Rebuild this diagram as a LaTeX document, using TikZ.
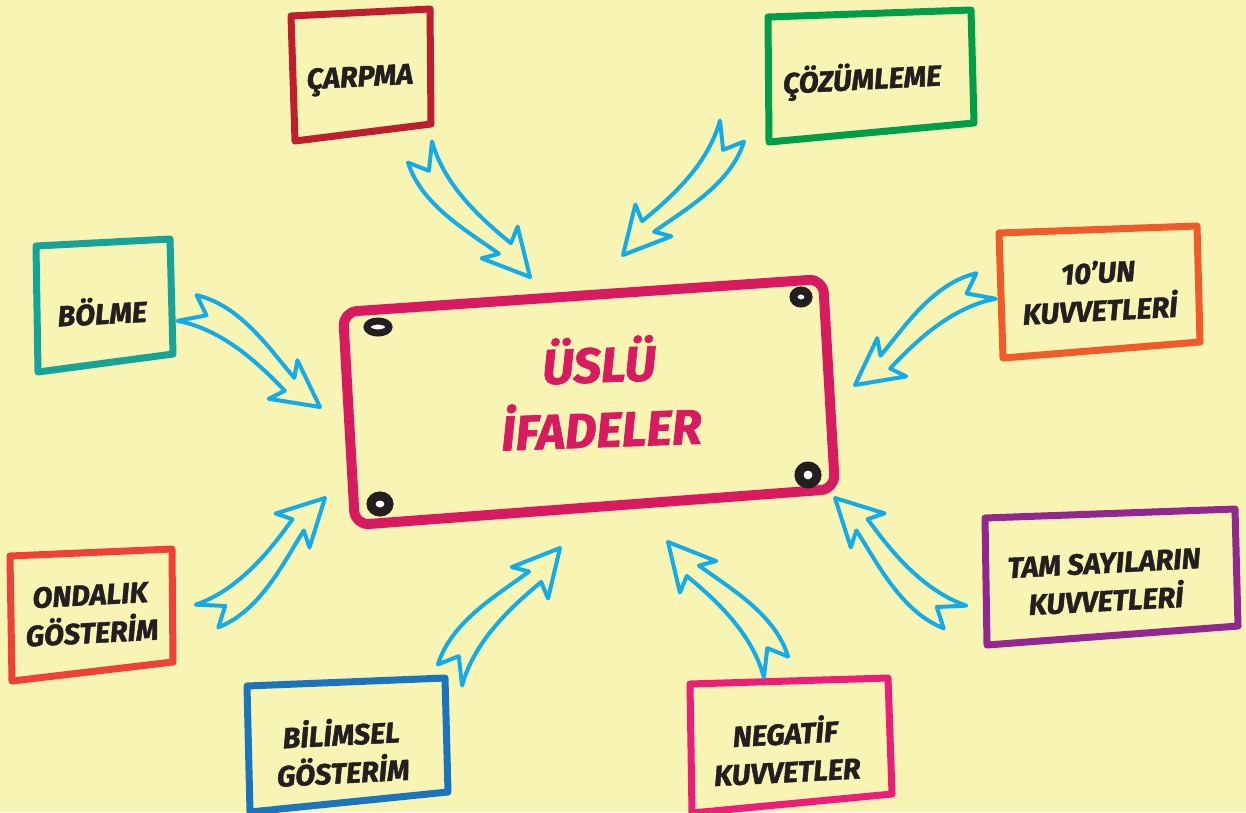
\documentclass[tikz,border=0pt]{standalone}
\usepackage{fontspec}
\setmainfont{Fira Sans}[BoldItalicFeatures={FakeBold=1.5}]
\definecolor{bgc}{RGB}{247,244,180}
\definecolor{ink}{RGB}{35,31,32}
\definecolor{mag}{RGB}{216,27,96}
\definecolor{arrowblue}{RGB}{20,172,232}
\definecolor{cRed}{RGB}{190,30,45}
\definecolor{cGreen}{RGB}{0,158,75}
\definecolor{cTeal}{RGB}{23,163,152}
\definecolor{cOrange}{RGB}{241,90,41}
\definecolor{cRed2}{RGB}{239,65,54}
\definecolor{cBlue}{RGB}{28,117,188}
\definecolor{cPink}{RGB}{236,30,122}
\definecolor{cPurple}{RGB}{146,39,143}
\tikzset{
  frame/.style={line width=7pt, line join=round, line cap=round},
  lbl/.style={font=\fontsize{29}{38}\selectfont\bfseries\itshape, text=ink, align=center, inner sep=0pt},
  mainlbl/.style={font=\fontsize{49}{65}\selectfont\bfseries\itshape, text=mag, align=center, inner sep=0pt},
  bluearrow/.style={draw=arrowblue, line width=4pt, line join=round},
  screw/.style={fill=white, draw=ink},
}
% curved hollow block arrow from tail coordinate #1 to tip coordinate #2, bend #3
\newcommand\blockarrow[3]{%
  \pgfmathanglebetweenpoints{\pgfpointanchor{#1}{center}}{\pgfpointanchor{#2}{center}}%
  \edef\BAang{\pgfmathresult}%
  \pgfpointdiff{\pgfpointanchor{#1}{center}}{\pgfpointanchor{#2}{center}}%
  \pgfgetlastxy{\BAdx}{\BAdy}%
  \pgfmathparse{veclen(\BAdx,\BAdy)}\edef\BAlen{\pgfmathresult}%
  \pgfmathsetmacro\BAha{1.6*(#3)}%
  \pgfmathsetmacro\BAhb{0.6*(#3)}%
  \begin{scope}[x={(1pt,0pt)}, y={(0pt,1pt)}, shift={(#1)}, rotate=\BAang]
    \draw[bluearrow] (0,16)
      .. controls ({0.25*\BAlen},{15+\BAha}) and ({0.55*\BAlen},{9+\BAhb}) .. ({\BAlen-38},8)
      -- ({\BAlen-46},24) -- (\BAlen,0) -- ({\BAlen-46},-24) -- ({\BAlen-38},-8)
      .. controls ({0.55*\BAlen},{-9+\BAhb}) and ({0.25*\BAlen},{-15+\BAha}) .. (0,-16)
      -- (20,{0.3*\BAha}) -- cycle;
  \end{scope}}
\begin{document}
\begin{tikzpicture}[x=1pt,y=-1pt]
\useasboundingbox (0,0) rectangle (1246,812);
\fill[bgc] (0,0) rectangle (1246,812);

% central box
\draw[mag, line width=10pt, rounded corners=14pt, line join=round]
  (583,295.5) -- (823,279) -- (835,489) -- (355,525) -- (343,312) -- cycle;
\node[mainlbl, rotate=2] (main) at (600,392) {ÜSLÜ\\İFADELER};
\filldraw[screw, line width=7pt] (378,327) ellipse [x radius=11pt, y radius=6pt];
\filldraw[screw, line width=8pt] (801,297) ellipse [x radius=7.5pt, y radius=6.5pt];
\filldraw[screw, line width=9pt] (808,475) ellipse [x radius=9pt, y radius=9pt];
\filldraw[screw, line width=9pt] (380,504) ellipse [x radius=9pt, y radius=8pt];

% outer boxes
\draw[frame, cRed] (291,16) -- (430,9) -- (431,124) -- (295,141) -- cycle;
\node[lbl, rotate=3] (carpma) at (360,80) {ÇARPMA};

\draw[frame, cGreen] (768,17) -- (971,10) -- (974,123) -- (769,142) -- cycle;
\node[lbl, rotate=3] (cozumleme) at (862,80) {ÇÖZÜMLEME};

\draw[frame, cTeal] (36,246) -- (170,239) -- (173,354) -- (38,372) -- cycle;
\node[lbl, rotate=3] (bolme) at (102,311) {BÖLME};

\draw[frame, cOrange] (999,233) -- (1197,226) -- (1200,342) -- (1003,358) -- cycle;
\node[lbl, rotate=3] (onun) at (1099,291) {10’UN\\KUVVETLERİ};

\draw[frame, cRed2] (10,556) -- (172,549) -- (173,662) -- (12,681) -- cycle;
\node[lbl, rotate=3] (ondalik) at (91,614) {ONDALIK\\GÖSTERİM};

\draw[frame, cBlue] (247,686) -- (445,678) -- (448,792) -- (250,812) -- cycle;
\node[lbl, rotate=3] (bilimsel) at (342,751) {BİLİMSEL\\GÖSTERİM};

\draw[frame, cPink] (690,684) -- (888,678) -- (892,794) -- (692,813) -- cycle;
\node[lbl, rotate=3] (negatif) at (786,750) {NEGATİF\\KUVVETLER};

\draw[frame, cPurple] (985,518) -- (1235,509) -- (1238,626) -- (987,645) -- cycle;
\node[lbl, rotate=3] (tam) at (1105,582) {TAM SAYILARIN\\KUVVETLERİ};

% arrow end points
\coordinate (a1t) at (420,152); \coordinate (a1h) at (530,277);
\coordinate (a2t) at (732,131); \coordinate (a2h) at (623,255);
\coordinate (a3t) at (187,308); \coordinate (a3h) at (320,407);
\coordinate (a4t) at (986,286); \coordinate (a4h) at (855,385);
\coordinate (a5t) at (207,616); \coordinate (a5h) at (325,498);
\coordinate (a6t) at (450,675); \coordinate (a6h) at (560,548);
\coordinate (a7t) at (776,667); \coordinate (a7h) at (668,542);
\coordinate (a8t) at (955,617); \coordinate (a8h) at (835,498);

\blockarrow{a1t}{a1h}{-12}
\blockarrow{a2t}{a2h}{12}
\blockarrow{a3t}{a3h}{12}
\blockarrow{a4t}{a4h}{-12}
\blockarrow{a5t}{a5h}{-12}
\blockarrow{a6t}{a6h}{12}
\blockarrow{a7t}{a7h}{-12}
\blockarrow{a8t}{a8h}{12}
\end{tikzpicture}
\end{document}
